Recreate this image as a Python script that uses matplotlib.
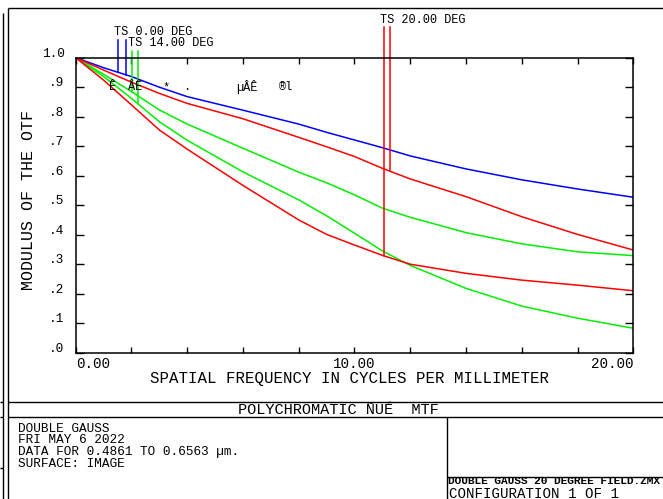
import matplotlib
matplotlib.use('Agg')
import matplotlib.pyplot as plt
import numpy as np

plt.rcParams['font.family'] = ['Liberation Mono', 'DejaVu Sans Mono']

# spatial frequency (cycles/mm) and MTF values
freq = [0, 1, 2, 3, 4, 6, 8, 9, 10, 11, 12, 14, 16, 18, 20]
ts0 = [1.0, .966, .936, .900, .868, .822, .775, .747, .721, .695, .667, .623, .586, .555, .527]
ts14_t = [1.0, .944, .885, .823, .775, .693, .612, .576, .535, .490, .459, .407, .369, .342, .329]
ts14_s = [1.0, .936, .862, .783, .720, .613, .518, .464, .405, .345, .296, .218, .158, .117, .083]
ts20_t = [1.0, .958, .917, .879, .845, .793, .730, .698, .665, .625, .589, .529, .461, .401, .348]
ts20_s = [1.0, .924, .840, .755, .690, .567, .450, .401, .365, .330, .300, .269, .246, .229, .210]

xticks = np.arange(0, 21, 2)
yticks = np.round(np.arange(0, 1.01, 0.1), 1)
ytick_labels = ['.0', '.1', '.2', '.3', '.4', '.5', '.6', '.7', '.8', '.9', '1.0']

W, H = 663, 499
fig = plt.figure(figsize=(W / 100, H / 100), dpi=100)

# frame / text overlay in pixel coords
bg = fig.add_axes([0, 0, 1, 1], zorder=0)
bg.set_xlim(0, W)
bg.set_ylim(H, 0)
bg.axis('off')

def seg(x0, y0, x1, y1):
    bg.plot([x0, x1], [y0, y1], color='black', lw=1.0, solid_capstyle='butt')

seg(7.5, 8, W, 8)
seg(7.5, 8, 7.5, H)
seg(2.5, 13, 2.5, H)
seg(7.5, 402, W, 402)
seg(7.5, 417, W, 417)
seg(447, 417, 447, H)
seg(447, 477, W, 477)
for yy in [402, 417, 468]:
    seg(0, yy, 2.5, yy)

bg.text(338, 410, 'POLYCHROMATIC ÑÜÉ  MTF', fontsize=11, ha='center', va='center')
info = ['DOUBLE GAUSS', 'FRI MAY 6 2022', 'DATA FOR 0.4861 TO 0.6563 µm.', 'SURFACE: IMAGE']
for i, line in enumerate(info):
    bg.text(18, 428.5 + i * 11.7, line, fontsize=9.2, ha='left', va='center')
bg.text(448, 481, 'DOUBLE GAUSS 20 DEGREE FIELD.ZMX', fontsize=8.0, fontweight='bold',
        ha='left', va='center')
bg.text(449, 493.5, 'CONFIGURATION 1 OF 1', fontsize=10.2, ha='left', va='center')

bg.text(29, 200, 'MODULUS OF THE OTF', fontsize=12, rotation=90, ha='center', va='center')
bg.text(350, 378, 'SPATIAL FREQUENCY IN CYCLES PER MILLIMETER', fontsize=11.3,
        ha='center', va='center')

# main plot
x0, x1, y0, y1 = 75.7, 633.3, 57.7, 352.7
ax = fig.add_axes([x0 / W, 1 - y1 / H, (x1 - x0) / W, (y1 - y0) / H], zorder=2)
ax.patch.set_alpha(0)
ax.set_xlim(0, 20)
ax.set_ylim(0, 1)

lw = 1.1
blue, green, red = '#0000ff', '#00f000', '#ff0000'
ax.plot(freq, ts0, color=blue, lw=lw)
ax.plot(freq, ts14_t, color=green, lw=lw)
ax.plot(freq, ts14_s, color=green, lw=lw)
ax.plot(freq, ts20_t, color=red, lw=lw)
ax.plot(freq, ts20_s, color=red, lw=lw)

for s in ax.spines.values():
    s.set_linewidth(1.1)
ax.set_xticks(xticks)
ax.set_yticks(yticks)
ax.tick_params(direction='in', top=True, right=True, width=1.0,
               labelleft=False, labelbottom=False)
ax.tick_params(axis='y', length=5.5)
ax.tick_params(axis='x', length=4)

# tick labels
for v, lab in zip(yticks, ytick_labels):
    ax.annotate(lab, xy=(0, v), xycoords=('axes fraction', 'data'),
                xytext=(-8, 3), textcoords='offset points',
                fontsize=9.2, ha='right', va='center')
for f, lab, ha in [(0, '0.00', 'left'), (10, '10.00', 'center'), (20, '20.00', 'right')]:
    ax.annotate(lab, xy=(f, 0), xycoords='data', xytext=(0, -8),
                textcoords='offset points', fontsize=10.3, ha=ha, va='center')

# field labels with leader lines down to the curves
leaders = [
    (blue, 1.50, 1.060, ts0),
    (blue, 1.79, 1.060, ts0),
    (green, 2.01, 1.024, ts14_t),
    (green, 2.22, 1.024, ts14_s),
    (red, 11.05, 1.104, ts20_s),
    (red, 11.29, 1.104, ts20_t),
]
for c, f, top, curve in leaders:
    ax.plot([f, f], [top, np.interp(f, freq, curve)], color=c, lw=lw, clip_on=False)

ax.text(1.375, 1.088, 'TS 0.00 DEG', fontsize=8.6, ha='left', va='center', clip_on=False)
ax.text(1.878, 1.051, 'TS 14.00 DEG', fontsize=8.6, ha='left', va='center', clip_on=False)
ax.text(10.926, 1.128, 'TS 20.00 DEG', fontsize=8.6, ha='left', va='center', clip_on=False)

for f, s in [(1.2, 'Ê'), (1.88, 'ÂÊ'), (3.13, '*'), (3.85, '.'), (5.76, 'µÂÊ'), (7.3, '®l')]:
    ax.text(f, 0.90, s, fontsize=8.6, ha='left', va='center')

fig.savefig('out.png', dpi=100)
